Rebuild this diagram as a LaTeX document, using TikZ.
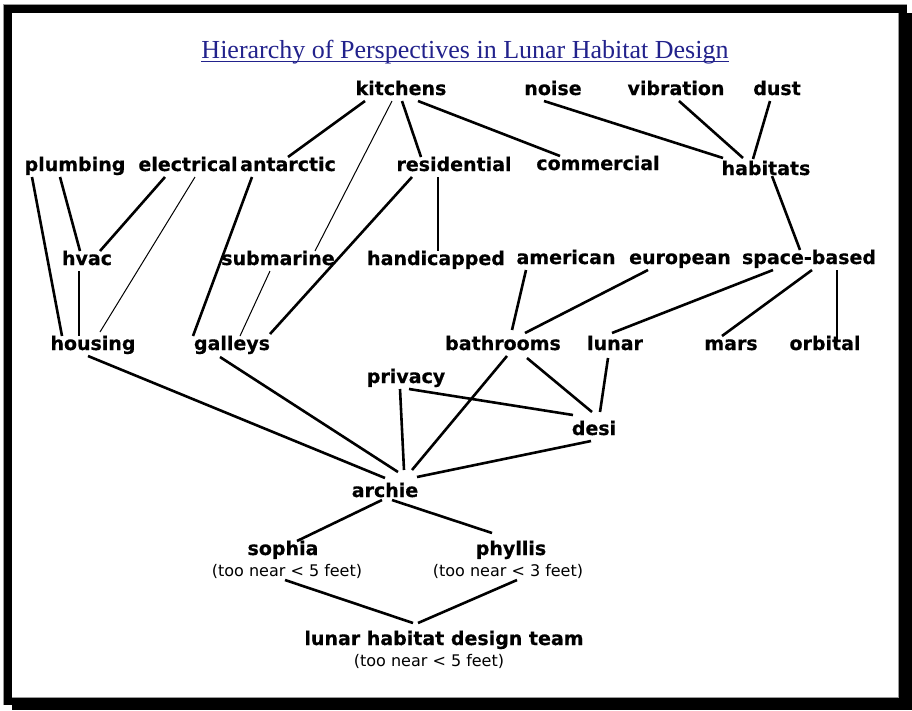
\documentclass[tikz,border=0pt]{standalone}
\usepackage{fontspec}
\usepackage{tikz}
\usepackage{xcolor}
\newfontfamily\topicfont{DejaVu Sans}[BoldFeatures={FakeBold=0.5}]
\newfontfamily\headfont{Liberation Serif}
\definecolor{headblue}{HTML}{22228C}
\definecolor{rimgray}{HTML}{9A9A9A}
\tikzset{
  topic/.style={font={\topicfont\bfseries\fontsize{19}{22}\selectfont}, inner sep=0pt,
                outer sep=0pt, text height=14pt, text depth=6pt, anchor=base},
  note/.style={font={\topicfont\fontsize{16}{18}\selectfont}, inner sep=0pt,
               outer sep=0pt, text height=12pt, text depth=4pt, anchor=base},
  tie/.style={line width=2.6pt},
  thintie/.style={line width=1pt},
}

\begin{document}
\begin{tikzpicture}[x=1pt, y=-1pt,
  headline/.style={font={\headfont\fontsize{26}{30}\selectfont}, text=headblue,
                   inner sep=0pt, anchor=base}]
\useasboundingbox (0,0) rectangle (912,710);

% ---- frame with drop shadow ----
\fill[black] (12,13) rectangle (912,710);
\fill[black] (3,4) rectangle (907,705);
\fill[white] (12,13) rectangle (898,697);
\draw[rimgray, line width=0.8pt] (12,697) -- (898,697) -- (898,13);
\draw[rimgray, line width=0.8pt] (3,705) -- (3,4) -- (907,4);

% ---- heading ----
\node[headline] (title) at (465,58) {Hierarchy of Perspectives in Lunar Habitat Design};
\draw[headblue, line width=1pt] ([yshift=-3.5pt]title.base west) -- ([yshift=-3.5pt]title.base east);

% ---- top row ----
\node[topic] (kitchens)  at (401,95) {kitchens};
\node[topic] (noise)     at (553,95) {noise};
\node[topic] (vibration) at (676,95) {vibration};
\node[topic] (dust)      at (777,95) {dust};

% ---- second row ----
\node[topic] (plumbing)    at (75,171)  {plumbing};
\node[topic] (electrical)  at (188,171) {electrical};
\node[topic] (antarctic)   at (288,171) {antarctic};
\node[topic] (residential) at (454,171) {residential};
\node[topic] (commercial)  at (598,170) {commercial};
\node[topic] (habitats)    at (766,175) {habitats};

% ---- third row ----
\node[topic] (hvac)        at (87,265)  {hvac};
\node[topic] (submarine)   at (278,265) {submarine};
\node[topic] (handicapped) at (436,265) {handicapped};
\node[topic] (american)    at (566,264) {american};
\node[topic] (european)    at (680,264) {european};
\node[topic] (spacebased)  at (809,264) {space-based};

% ---- fourth row ----
\node[topic] (housing)   at (93,350)  {housing};
\node[topic] (galleys)   at (232,350) {galleys};
\node[topic] (bathrooms) at (503,350) {bathrooms};
\node[topic] (lunar)     at (615,350) {lunar};
\node[topic] (mars)      at (731,350) {mars};
\node[topic] (orbital)   at (825,350) {orbital};

% ---- people ----
\node[topic] (privacy) at (406,383) {privacy};
\node[topic] (desi)    at (594,435) {desi};
\node[topic] (archie)  at (385,497) {archie};
\node[topic] (sophia)  at (283,555) {sophia};
\node[note]  (sophianote) at (287,576) {(too near < 5 feet)};
\node[topic] (phyllis) at (511,555) {phyllis};
\node[note]  (phyllisnote) at (508,576) {(too near < 3 feet)};
\node[topic] (team)    at (444,645) {lunar habitat design team};
\node[note]  (teamnote) at (429,666) {(too near < 5 feet)};

% ---- links from the top row ----
\draw[tie]     ([xshift=-36pt]kitchens.south) -- (antarctic.north);
\draw[thintie] ([xshift=-9pt]kitchens.south) -- ([xshift=37pt]submarine.north);
\draw[tie]     ([xshift=1pt]kitchens.south) -- ([xshift=-33pt]residential.north);
\draw[tie]     ([xshift=17pt]kitchens.south) -- ([xshift=-38pt]commercial.north);
\draw[tie]     ([xshift=-9pt]noise.south) -- ([xshift=-43pt,yshift=3pt]habitats.north);
\draw[tie]     ([xshift=3pt]vibration.south) -- ([xshift=-23pt,yshift=3pt]habitats.north);
\draw[tie]     ([xshift=-7pt]dust.south) -- ([xshift=-13pt,yshift=2pt]habitats.north);

% ---- links from the second row ----
\draw[tie]     ([xshift=-15pt]plumbing.south) -- ([xshift=-7pt]hvac.north);
\draw[tie]     ([xshift=-43pt]plumbing.south) -- ([xshift=-31pt]housing.north);
\draw[tie]     ([xshift=-23pt]electrical.south) -- ([xshift=13pt]hvac.north);
\draw[thintie] ([xshift=7pt]electrical.south) -- ([xshift=7pt,yshift=4pt]housing.north);
\draw[tie]     ([xshift=-36pt]antarctic.south) -- ([xshift=-39pt]galleys.north);
\draw[tie]     ([xshift=-42pt]residential.south) -- ([xshift=38pt,yshift=2pt]galleys.north);
\draw[tie]     ([xshift=-16pt]residential.south) -- ([xshift=2pt]handicapped.north);
\draw[tie]     ([xshift=6pt,yshift=5pt]habitats.south) -- ([xshift=-9pt]spacebased.north);

% ---- links from the third row ----
\draw[tie]     ([xshift=-8pt]hvac.south) -- ([xshift=-14pt]housing.north);
\draw[thintie] ([xshift=-8pt]submarine.south) -- ([xshift=8pt]galleys.north);
\draw[tie]     ([xshift=-40pt]american.south) -- ([xshift=9pt,yshift=6pt]bathrooms.north);
\draw[tie]     ([xshift=-32pt]european.south) -- ([xshift=22pt,yshift=3pt]bathrooms.north);
\draw[tie]     ([xshift=-36pt]spacebased.south) -- ([xshift=-3pt,yshift=3pt]lunar.north);
\draw[tie]     ([xshift=3pt]spacebased.south) -- ([xshift=-9pt]mars.north);
\draw[tie]     ([xshift=28pt]spacebased.south) -- ([xshift=12pt,yshift=-4pt]orbital.north);

% ---- links down to archie and desi ----
\draw[tie] ([xshift=4pt]bathrooms.south) -- ([xshift=27pt,yshift=13pt]archie.north);
\draw[tie] ([xshift=24pt,yshift=-2pt]bathrooms.south) -- ([xshift=-2pt,yshift=9pt]desi.north);
\draw[tie] ([xshift=-7pt,yshift=-2pt]lunar.south) -- ([xshift=6pt,yshift=9pt]desi.north);
\draw[tie] ([xshift=-6pt]privacy.south) -- ([xshift=19pt,yshift=13pt]archie.north);
\draw[tie] ([xshift=3pt]privacy.south) -- ([xshift=-21pt,yshift=6pt]desi.north);
\draw[tie] ([xshift=-3pt]desi.south) -- ([xshift=32pt,yshift=6pt]archie.north);
\draw[tie] ([xshift=-5pt]housing.south) -- ([yshift=5pt]archie.north);
\draw[tie] ([xshift=-12pt,yshift=-1pt]galleys.south) -- ([xshift=13pt,yshift=11pt]archie.north);

% ---- team ----
\draw[tie] ([xshift=-3pt,yshift=3pt]archie.south) -- ([xshift=14pt]sophia.north);
\draw[tie] ([xshift=7pt,yshift=3pt]archie.south) -- ([xshift=-19pt,yshift=8pt]phyllis.north);
\draw[tie] ([xshift=-2pt]sophianote.south) -- ([xshift=-31pt,yshift=8pt]team.north);
\draw[tie] ([xshift=9pt]phyllisnote.south) -- ([xshift=-26pt,yshift=8pt]team.north);

\end{tikzpicture}
\end{document}
